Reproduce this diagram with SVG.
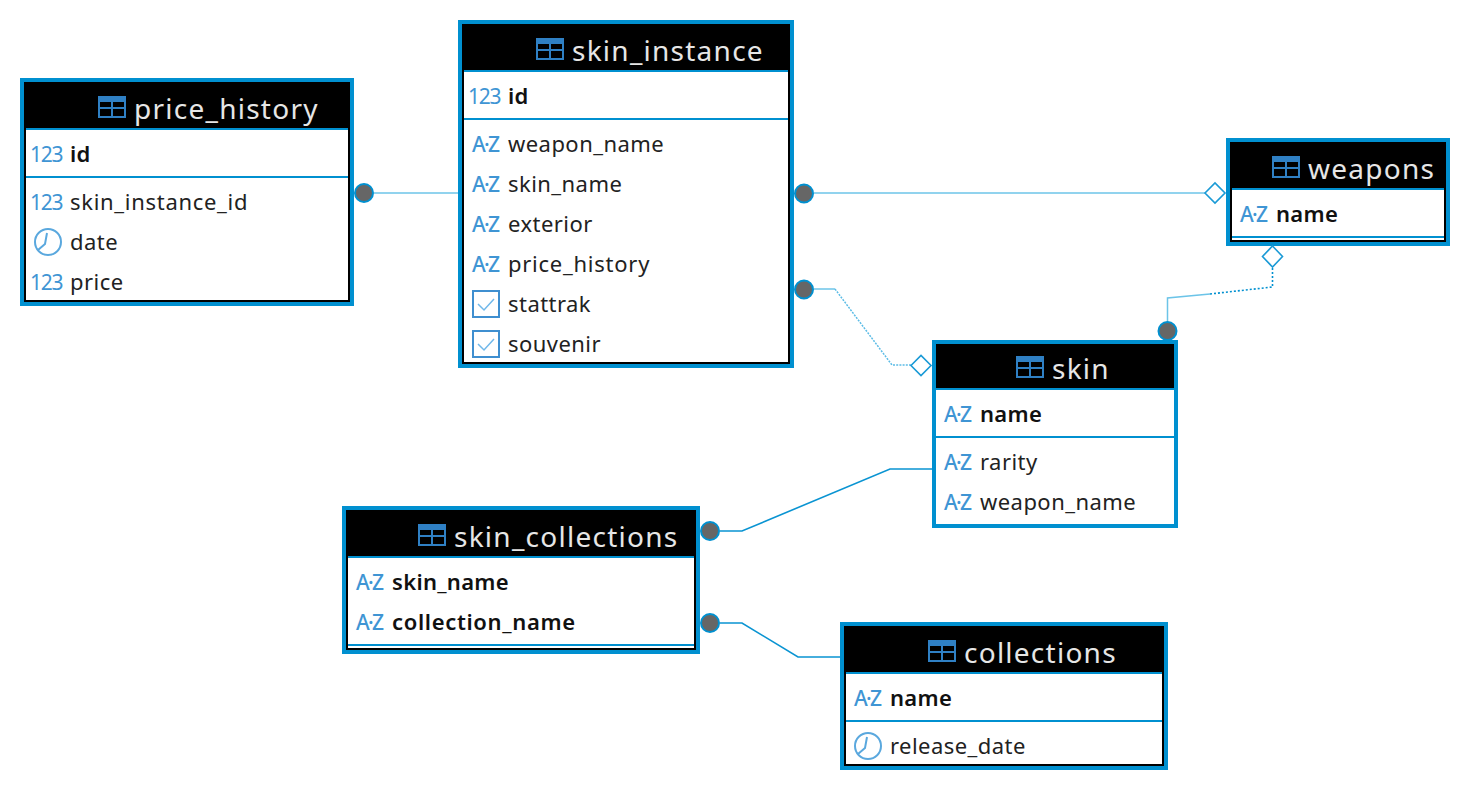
<svg xmlns="http://www.w3.org/2000/svg" width="1470" height="790" viewBox="0 0 1470 790">
<style>
.o{fill:#0090d0}.b{fill:#000}.w{fill:#fff}
text{font-family:"Noto Sans","DejaVu Sans",sans-serif}
.t{font-size:28px;fill:#e6e6e6;letter-spacing:1.25px}
.c{font-size:22px;fill:#222;letter-spacing:.45px}
.k{font-size:22px;fill:#111;font-weight:600;letter-spacing:.3px}
.n{font-size:21px;fill:#3f95d4;letter-spacing:-1.2px}
.a{font-size:21px;fill:#3f95d4;letter-spacing:-1.7px;font-weight:500}
.l{fill:none;stroke:#0a94d2;stroke-width:1.6}
.p{fill:none;stroke:#6cc4e8;stroke-width:1.5}
.q{fill:none;stroke:#5cbce6;stroke-width:1.5;stroke-dasharray:2 1.2}
.d{fill:none;stroke:#0090d0;stroke-width:1.6;stroke-dasharray:2 2}
.dot{fill:#666;stroke:#0090d0;stroke-width:2}
.dia{fill:#fff;stroke:#1a9ad6;stroke-width:1.6}
</style>
<defs>
<g id="tbl"><rect x="1" y="1" width="26" height="20" fill="none" stroke="#2f80c4" stroke-width="2"/><rect x="0" y="0" width="28" height="6" fill="#2f80c4"/><path d="M1 12H27M14 6V21" stroke="#2f80c4" stroke-width="2" fill="none"/></g>
<g id="clk"><circle cx="14" cy="14" r="13" fill="none" stroke="#5aa8de" stroke-width="2"/><path d="M13 5L11 16L4 22" fill="none" stroke="#5aa8de" stroke-width="2"/></g>
<g id="chk"><rect x="1" y="1" width="26" height="26" fill="none" stroke="#3f8fd0" stroke-width="2"/><path d="M6 14L12 20L22 9" fill="none" stroke="#70b8ea" stroke-width="1.5"/></g>
</defs>
<g id="connectors">
<path class="p" d="M374 193H458"/>
<path class="p" d="M814 193H1206"/>
<path class="p" d="M814 289H835"/>
<path class="q" d="M835 289L892 365H911"/>
<path class="p" d="M1167.5 322V298L1210 294"/>
<path class="d" d="M1210 294L1272.5 287V266"/>
<path class="l" d="M720 531H742L890 469H932"/>
<path class="l" d="M720 623H742L798 657H840"/>
</g>
<g id="price_history">
<rect class="o" x="20" y="78" width="334" height="228"/><rect class="b" x="24" y="82" width="326" height="220"/><rect class="w" x="26" y="130" width="322" height="170"/>
<rect class="o" x="26" y="128" width="322" height="2"/><rect class="o" x="26" y="176" width="322" height="2"/>
<use href="#tbl" x="98" y="96"/><text class="t" x="134" y="119">price_history</text>
<text class="n" x="30" y="162">123</text><text class="k" x="70" y="162">id</text>
<text class="n" x="30" y="210">123</text><text class="c" x="70" y="210" style="letter-spacing:.7px">skin_instance_id</text>
<use href="#clk" x="34" y="228"/><text class="c" x="70" y="250">date</text>
<text class="n" x="30" y="290">123</text><text class="c" x="70" y="290">price</text>
<circle class="dot" cx="364" cy="193" r="9"/>
</g>
<g id="skin_instance">
<rect class="o" x="458" y="20" width="336" height="348"/><rect class="b" x="462" y="24" width="328" height="340"/><rect class="w" x="464" y="72" width="324" height="290"/>
<rect class="o" x="464" y="70" width="324" height="2"/><rect class="o" x="464" y="118" width="324" height="2"/>
<use href="#tbl" x="536" y="38"/><text class="t" x="572" y="61">skin_instance</text>
<text class="n" x="468" y="104">123</text><text class="k" x="508" y="104">id</text>
<text class="a" x="472" y="152">A·Z</text><text class="c" x="508" y="152">weapon_name</text>
<text class="a" x="472" y="192">A·Z</text><text class="c" x="508" y="192">skin_name</text>
<text class="a" x="472" y="232">A·Z</text><text class="c" x="508" y="232">exterior</text>
<text class="a" x="472" y="272">A·Z</text><text class="c" x="508" y="272" style="letter-spacing:.75px">price_history</text>
<use href="#chk" x="472" y="290"/><text class="c" x="508" y="312">stattrak</text>
<use href="#chk" x="472" y="330"/><text class="c" x="508" y="352">souvenir</text>
<circle class="dot" cx="804" cy="193.500" r="9"/><circle class="dot" cx="804" cy="289.500" r="9"/>
</g>
<g id="weapons">
<rect class="o" x="1226" y="138" width="224" height="108"/><rect class="b" x="1230" y="142" width="216" height="100"/><rect class="w" x="1232" y="190" width="212" height="50"/>
<rect class="o" x="1232" y="188" width="212" height="2"/><rect class="o" x="1232" y="236" width="212" height="2"/>
<use href="#tbl" x="1272" y="156"/><text class="t" x="1308" y="179">weapons</text>
<text class="a" x="1240" y="222">A·Z</text><text class="k" x="1276" y="222">name</text>
<path class="dia" d="M1205 193L1215 183L1225 193L1215 203Z"/>
<path class="dia" d="M1272.500 246L1282.500 256.500L1272.500 267L1262.500 256.500Z"/>
</g>
<g id="skin">
<rect class="o" x="932" y="340" width="246" height="188"/><rect class="b" x="936" y="344" width="238" height="45"/><rect class="w" x="936" y="390" width="238" height="134"/>
<rect class="o" x="936" y="388" width="238" height="2"/><rect class="o" x="936" y="436" width="238" height="2"/>
<use href="#tbl" x="1016" y="356"/><text class="t" x="1052" y="379">skin</text>
<text class="a" x="944" y="422">A·Z</text><text class="k" x="980" y="422">name</text>
<text class="a" x="944" y="470">A·Z</text><text class="c" x="980" y="470">rarity</text>
<text class="a" x="944" y="510">A·Z</text><text class="c" x="980" y="510">weapon_name</text>
<path class="dia" d="M911 365.500L921 355.500L931 365.500L921 375.500Z"/>
<circle class="dot" cx="1167.500" cy="331" r="9"/>
</g>
<g id="skin_collections">
<rect class="o" x="342" y="506" width="358" height="148"/><rect class="b" x="346" y="510" width="350" height="140"/><rect class="w" x="348" y="558" width="346" height="90"/>
<rect class="o" x="348" y="556" width="346" height="2"/><rect class="o" x="348" y="644" width="346" height="2"/>
<use href="#tbl" x="418" y="524"/><text class="t" x="454" y="547">skin_collections</text>
<text class="a" x="356" y="590">A·Z</text><text class="k" x="392" y="590">skin_name</text>
<text class="a" x="356" y="630">A·Z</text><text class="k" x="392" y="630" style="letter-spacing:.65px">collection_name</text>
<circle class="dot" cx="710" cy="531" r="9"/><circle class="dot" cx="710" cy="623" r="9"/>
</g>
<g id="collections">
<rect class="o" x="840" y="622" width="328" height="148"/><rect class="b" x="844" y="626" width="320" height="140"/><rect class="w" x="846" y="674" width="316" height="90"/>
<rect class="o" x="846" y="672" width="316" height="2"/><rect class="o" x="846" y="720" width="316" height="2"/>
<use href="#tbl" x="928" y="640"/><text class="t" x="964" y="663">collections</text>
<text class="a" x="854" y="706">A·Z</text><text class="k" x="890" y="706">name</text>
<use href="#clk" x="854" y="732"/><text class="c" x="890" y="754">release_date</text>
</g>
</svg>
